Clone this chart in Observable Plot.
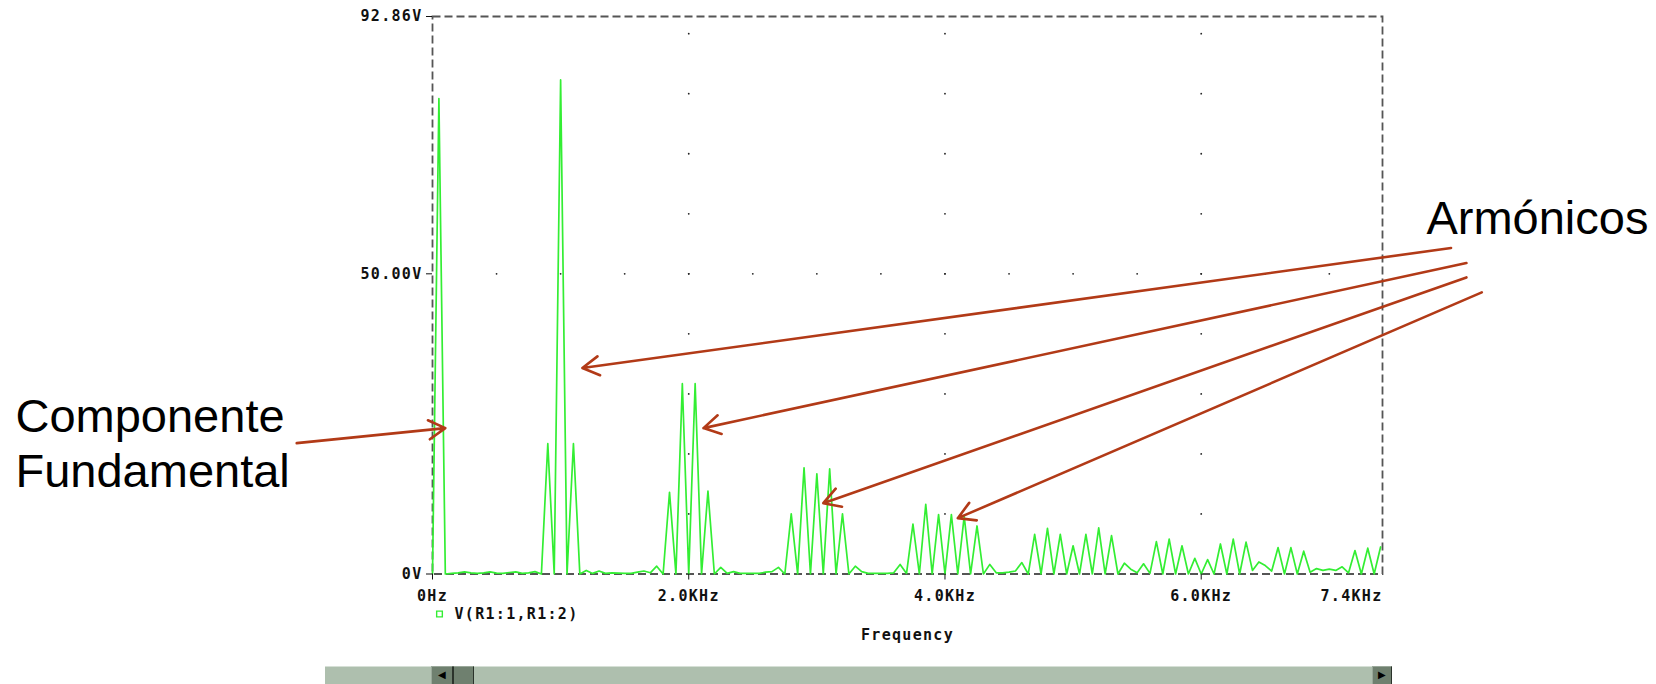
<!DOCTYPE html>
<html>
<head>
<meta charset="utf-8">
<script src="https://cdn.jsdelivr.net/npm/d3@7"></script>
<script src="https://cdn.jsdelivr.net/npm/@observablehq/plot@0.6"></script>
<style>
  html, body { margin: 0; padding: 0; background: #fff; }
  #wrap { position: relative; width: 1656px; height: 684px; overflow: hidden; background: #fff; }
  #wrap svg text { letter-spacing: 1.3px; }
  #wrap svg g[font-size="47"] text { letter-spacing: 0px; }
  .sb { position: absolute; box-sizing: border-box; }
</style>
</head>
<body>
<div id="wrap"></div>
<script>
// ---- data ----
const freqStep = 50; // Hz between FFT bins
const voltages = [
  0, 79.2, 0, 0.1, 0.2, 0.35, 0.2, 0.1, 0.2, 0.35,
  0.15, 0.1, 0.25, 0.35, 0.1, 0.2, 0.4, 0, 21.7, 0,
  82.3, 0, 21.7, 0, 0.6, 0.1, 0.5, 0.1, 0.2, 0.15,
  0.1, 0.1, 0.3, 0.5, 0.2, 1.3, 0, 13.6, 0, 31.7,
  0, 31.7, 0, 13.8, 0, 1.1, 0.1, 0.4, 0.1, 0.1,
  0.1, 0.1, 0.3, 0.4, 1.1, 0, 10.0, 0, 17.7, 0,
  16.7, 0, 17.5, 0, 10.0, 0, 1.3, 0.4, 0.1, 0.1,
  0.1, 0.1, 0.2, 1.6, 0.1, 8.3, 0, 11.6, 0, 9.9,
  0, 9.9, 0, 9.6, 0, 8.0, 0, 1.6, 0.2, 0.2,
  0.3, 0.5, 1.9, 0, 6.6, 0, 7.6, 0, 6.6, 0,
  4.7, 0, 6.6, 0, 7.7, 0, 6.4, 0, 1.8, 0.8,
  0.2, 1.7, 0.1, 5.4, 0, 5.8, 0, 4.7, 0, 2.6,
  0, 2.4, 0, 5.0, 0, 5.8, 0, 5.3, 0.6, 2.0,
  1.4, 0.5, 4.4, 0, 4.4, 0, 3.8, 0.3, 0.9, 0.6,
  0.8, 0.6, 1.2, 0.2, 3.9, 0, 4.3, 0, 4.5
];

const xDomain = [0, 7415];
const yDomain = [0, 92.86];
const xTicks = [0, 2000, 4000, 6000];
const xTickLabels = ["0Hz", "2.0KHz", "4.0KHz", "6.0KHz"];
const xEndLabel = "7.4KHz";
const yTicks = [0, 50, 92.86];
const yTickLabels = ["0V", "50.00V", "92.86V"];
const gridColumns = [2000, 4000, 6000];
const gridColumnDotLevels = [10, 20, 30, 40, 50, 60, 70, 80, 90];
const gridRows = [50];
const gridRowDotFreqs = [500, 1000, 1500, 2000, 2500, 3000, 3500, 4000, 4500, 5000, 5500, 6000, 6500, 7000];
const legendLabel = "V(R1:1,R1:2)";
const axisTitle = "Frequency";

// annotations (data units: Hz, V)
const arrowTailF = [-1060, 7950, 8070, 8070, 8190];
const arrowTailV = [21.8, 54.3, 51.8, 49.4, 46.9];
const arrowHeadF = [100, 1170, 2115, 3050, 4100];
const arrowHeadV = [24.3, 34.3, 24.3, 11.8, 9.3];
const noteTexts = ["Componente\nFundamental", "Armónicos"];
const noteF = [-3255, 7758];
const noteV = [30.1, 63.1];

// ---- build tables ----
const spectrum = voltages.map((v, i) => ({f: i * freqStep, v}));
const gridDots = [
  ...gridColumns.flatMap(f => gridColumnDotLevels.map(v => ({f, v}))),
  ...gridRows.flatMap(v => gridRowDotFreqs.map(f => ({f, v})))
];
const arrows = arrowTailF.map((_, i) => ({x1: arrowTailF[i], y1: arrowTailV[i], x2: arrowHeadF[i], y2: arrowHeadV[i]}));
const notes = noteTexts.map((t, i) => ({t, f: noteF[i], v: noteV[i]}));

const green = "#33ee33";
const ink = "#111";

const chart = Plot.plot({
  width: 1656,
  height: 684,
  marginLeft: 432,
  marginRight: 274,
  marginTop: 16,
  marginBottom: 110.5,
  style: {fontFamily: "'DejaVu Sans Mono', monospace", fontWeight: "bold", fontSize: "15px", background: "#fff", color: ink},
  x: {domain: xDomain},
  y: {domain: yDomain},
  marks: [
    Plot.dot(gridDots, {x: "f", y: "v", r: 0.9, fill: "#222", stroke: null}),
    Plot.frame({stroke: "#555", strokeWidth: 1.8, strokeDasharray: "8,4"}),
    Plot.line(spectrum, {x: "f", y: "v", stroke: green, strokeWidth: 1.7}),
    Plot.axisX(xTicks, {tickFormat: d => xTickLabels[xTicks.indexOf(d)], tickSize: 6, tickPadding: 10, stroke: ink, fill: ink, label: null}),
    Plot.axisX([xDomain[1]], {tickFormat: () => xEndLabel, tickSize: 0, tickPadding: 16, textAnchor: "end", fill: ink, label: null}),
    Plot.axisY(yTicks, {tickFormat: d => yTickLabels[yTicks.indexOf(d)], tickSize: 6, tickPadding: 4, stroke: ink, fill: ink, label: null}),
    Plot.text([axisTitle], {frameAnchor: "bottom", dy: 61.5, lineAnchor: "middle", fill: ink}),
    Plot.dot([legendLabel], {frameAnchor: "bottom-left", dx: 7, dy: 40, symbol: "square", r: 3.2, stroke: green, strokeWidth: 1.4, fill: "none"}),
    Plot.text([legendLabel], {frameAnchor: "bottom-left", dx: 22, dy: 40, textAnchor: "start", lineAnchor: "middle", fill: ink}),
    Plot.arrow(arrows, {x1: "x1", y1: "y1", x2: "x2", y2: "y2", stroke: "#b23a17", strokeWidth: 2.6, headLength: 11, headAngle: 60, bend: 0}),
    Plot.text(notes, {x: "f", y: "v", text: "t", textAnchor: "start", lineAnchor: "top", lineHeight: 1.17,
      fontFamily: "'Liberation Sans', Arial, sans-serif", fontSize: 47, fontWeight: "normal", fill: "#000"})
  ]
});

const wrap = document.getElementById("wrap");
wrap.appendChild(chart);

// scroll bar of the viewer window
const sbParts = [
  {l: 325, t: 666, w: 1067, h: 18, bg: "#aebfae", bt: "1px solid #d6e0d6"},
  {l: 431, t: 666, w: 22, h: 18, bg: "#6f806f", bt: "1px solid #9aa89a", br: "1px solid #2b332b", bl: "1px solid #9aa89a"},
  {l: 453, t: 666, w: 21, h: 18, bg: "#6f806f", bt: "1px solid #9aa89a", br: "1px solid #2b332b", bl: "1px solid #2b332b"},
  {l: 1372, t: 666, w: 20, h: 18, bg: "#6f806f", bt: "1px solid #9aa89a", br: "1px solid #2b332b", bl: "1px solid #9aa89a"}
];
for (const p of sbParts) {
  const d = document.createElement("div");
  d.className = "sb";
  Object.assign(d.style, {left: p.l + "px", top: p.t + "px", width: p.w + "px", height: p.h + "px", background: p.bg,
    borderTop: p.bt || "none", borderRight: p.br || "none", borderLeft: p.bl || "none"});
  wrap.appendChild(d);
}
const arrowsGlyph = [{l: 438, ch: "◀"}, {l: 1378, ch: "▶"}];
for (const a of arrowsGlyph) {
  const s = document.createElement("div");
  s.className = "sb";
  Object.assign(s.style, {left: a.l + "px", top: "668px", fontSize: "10px", lineHeight: "14px", color: "#000", fontFamily: "'DejaVu Sans', sans-serif"});
  s.textContent = a.ch;
  wrap.appendChild(s);
}
</script>
</body>
</html>
